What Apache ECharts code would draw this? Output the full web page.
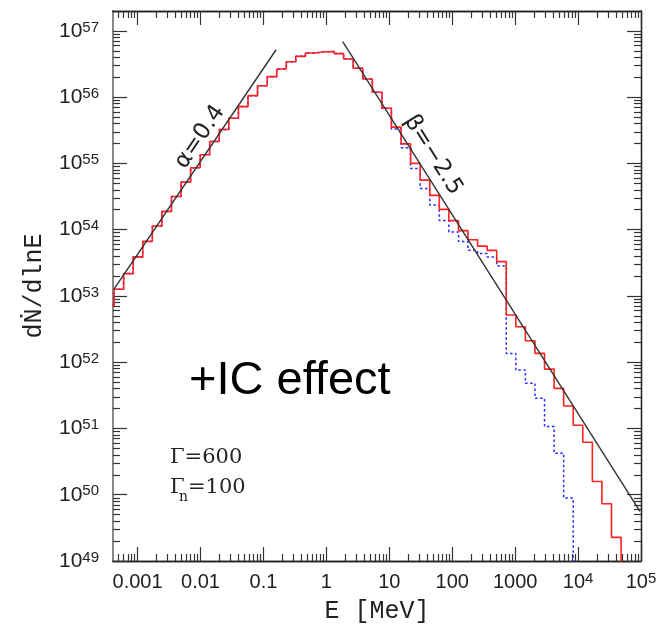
<!DOCTYPE html>
<html><head><meta charset="utf-8">
<script src="https://cdn.jsdelivr.net/npm/echarts@6/dist/echarts.min.js"></script>
<style>html,body{margin:0;padding:0;background:#fff}#c{width:664px;height:629px}</style>
</head><body><div id="c"></div>
<script>
// Bin edges (MeV), evenly spaced in log E
const binEdgesMeV = [0.000299, 0.000424, 0.000601, 0.000853, 0.00121, 0.00172, 0.00244, 0.00346, 0.00491, 0.00697,
  0.00989, 0.0140, 0.0199, 0.0282, 0.0401, 0.0569, 0.0807, 0.115, 0.163, 0.231,
  0.327, 0.465, 0.659, 0.935, 1.33, 1.88, 2.67, 3.79, 5.38, 7.64,
  10.8, 15.4, 21.8, 31.0, 44.0, 62.4, 88.5, 126, 178, 253,
  359, 509, 723, 1026, 1455, 2065, 2931, 4159, 5902, 8375,
  11885, 16866, 23933, 33963, 48195, 68391];
// dN/dlnE per bin, red solid (+IC effect)
const redCounts = [7.16e52, 1.262e53, 2.173e53, 3.882e53, 6.668e53, 1.138e54, 1.888e54, 3.170e54, 5.224e54, 8.590e54,
  1.349e55, 2.138e55, 3.243e55, 4.808e55, 7.194e55, 1.054e56, 1.489e56, 2.037e56, 2.661e56, 3.428e56,
  4.130e56, 4.634e56, 4.842e56, 4.875e56, 4.539e56, 3.758e56, 2.723e56, 1.879e56, 1.186e56, 6.808e55,
  3.524e55, 1.972e55, 1.000e55, 5.598e54, 3.289e54, 2.023e54, 1.368e54, 9.661e53, 7.063e53, 5.649e53,
  4.875e53, 3.296e53, 5.152e52, 3.428e52, 2.109e52, 1.358e52, 7.870e51, 4.027e51, 2.183e51, 1.117e51,
  6.194e50, 1.585e50, 7.295e49, 2.275e49, 3e48];
// dN/dlnE per bin, blue dotted
const blueCounts = [7.16e52, 1.262e53, 2.173e53, 3.882e53, 6.668e53, 1.138e54, 1.888e54, 3.170e54, 5.224e54, 8.590e54,
  1.349e55, 2.138e55, 3.243e55, 4.808e55, 7.194e55, 1.054e56, 1.489e56, 2.037e56, 2.661e56, 3.428e56,
  4.130e56, 4.634e56, 4.842e56, 4.875e56, 4.539e56, 3.758e56, 2.723e56, 1.879e56, 1.186e56, 6.808e55,
  3.319e55, 1.722e55, 8.414e54, 4.188e54, 2.355e54, 1.380e54, 9.226e53, 6.607e53, 4.875e53, 4.355e53,
  3.882e53, 2.818e53, 1.358e52, 7.603e51, 4.797e51, 2.851e51, 1.067e51, 4.236e50, 8.89e49, 3e48];
// power-law guide lines [E, dN/dlnE]
const alphaLine = [[4.2e-4, 1.26e53], [0.159, 5.19e56]];
const betaLine = [[1.82, 6.86e56], [9.64e4, 5.61e49]];
// ticks
const xTickValues = [0.001, 0.01, 0.1, 1, 10, 100, 1000, 1e4, 1e5];
const xTickLabels = ['0.001', '0.01', '0.1', '1', '10', '100', '1000', '10^4', '10^5'];
const yTickValues = [1e49, 1e50, 1e51, 1e52, 1e53, 1e54, 1e55, 1e56, 1e57];
const yTickLabels = ['10^49', '10^50', '10^51', '10^52', '10^53', '10^54', '10^55', '10^56', '10^57'];

const lg = v => Math.log10(v);
const xMin = -3.39, xMax = 5, yMin = 49, yMax = 57.3;
const xMajor = xTickValues.map(v => Math.round(lg(v)));
const yMajor = yTickValues.map(v => Math.round(lg(v)));
function minorTicks(lo, hi) {
  const out = [];
  for (let k = Math.floor(lo) - 1; k <= Math.ceil(hi); k++) {
    for (let m = 2; m <= 9; m++) { const v = k + Math.log10(m); if (v > lo && v < hi) out.push(v); }
  }
  return out;
}
function stepData(counts) {
  const d = counts.map((c, i) => [lg(binEdgesMeV[i]), lg(c)]);
  d.push([lg(binEdgesMeV[counts.length]), lg(counts[counts.length - 1])]);
  return d;
}
function fmt(labels, majors, tag) {
  return v => {
    const i = majors.findIndex(m => Math.abs(m - v) < 1e-6);
    if (i < 0) return '';
    const s = labels[i];
    if (s.indexOf('^') >= 0) { const p = s.split('^'); return '{' + tag + '|' + p[0] + '}{s|' + p[1] + '}'; }
    return '{' + tag + '|' + s + '}';
  };
}
const rich = {
  b: { fontSize: 20, fontFamily: 'Liberation Sans', color: '#222', lineHeight: 22 },
  y: { fontSize: 21, fontFamily: 'Liberation Sans', color: '#222', lineHeight: 22 },
  s: { fontSize: 15, fontFamily: 'Liberation Sans', color: '#222', lineHeight: 14, verticalAlign: 'top' }
};
const TICK = '#333';
function axis(dim, pos, values, len, opts) {
  const lineColor = (pos === 'left') ? '#888' : '#222';
  const lineW = (pos === 'left') ? 2 : 1.3;
  const base = {
    type: 'value', position: pos,
    min: dim === 'x' ? xMin : yMin, max: dim === 'x' ? xMax : yMax,
    axisLine: { show: true, onZero: false, lineStyle: { color: lineColor, width: lineW } },
    axisTick: { show: true, inside: true, length: len, customValues: values, lineStyle: { color: TICK, width: 1.2 } },
    axisLabel: { show: false },
    splitLine: { show: false }
  };
  return Object.assign(base, opts || {});
}
const xMinor = minorTicks(xMin, xMax), yMinor = minorTicks(yMin, yMax);

const chart = echarts.init(document.getElementById('c'), null, { renderer: 'canvas' });
chart.setOption({
  animation: false,
  backgroundColor: '#fff',
  grid: { left: 113, right: 23, top: 11, bottom: 66 },
  xAxis: [
    axis('x', 'bottom', xMajor, 14, {
      axisLabel: { show: true, customValues: xMajor, margin: 10, formatter: fmt(xTickLabels, xMajor, 'b'), rich: rich },
      name: 'E [MeV]', nameLocation: 'middle', nameGap: 38,
      nameTextStyle: { fontFamily: 'Liberation Mono', fontSize: 25, color: '#222' }
    }),
    axis('x', 'bottom', xMinor, 7),
    axis('x', 'top', xMajor, 14),
    axis('x', 'top', xMinor, 7)
  ],
  yAxis: [
    axis('y', 'left', yMajor, 14, {
      axisLabel: { show: true, customValues: yMajor, margin: 14, formatter: fmt(yTickLabels, yMajor, 'y'), rich: rich },
      name: 'dṄ/dlnE', nameLocation: 'middle', nameGap: 66, nameRotate: 90,
      nameTextStyle: { fontFamily: 'Liberation Mono', fontSize: 25, color: '#222' }
    }),
    axis('y', 'left', yMinor, 7),
    axis('y', 'right', yMajor, 14),
    axis('y', 'right', yMinor, 7)
  ],
  series: [
    { type: 'line', step: 'end', data: stepData(blueCounts), symbol: 'none', z: 2, silent: true,
      lineStyle: { color: '#2a2aff', width: 1.5, type: [2.5, 2.5] } },
    { type: 'line', step: 'end', data: stepData(redCounts), symbol: 'none', z: 3, silent: true,
      lineStyle: { color: '#ff2020', width: 1.6 } },
    { type: 'line', data: alphaLine.map(p => [lg(p[0]), lg(p[1])]), symbol: 'none', z: 4, silent: true,
      lineStyle: { color: '#333', width: 1.4 } },
    { type: 'line', data: betaLine.map(p => [lg(p[0]), lg(p[1])]), symbol: 'none', z: 4, silent: true,
      lineStyle: { color: '#333', width: 1.4 } }
  ],
  graphic: [
    { type: 'text', x: 189, y: 381, style: { text: '+IC effect', fontSize: 47, fontFamily: 'Liberation Sans', fill: '#000', align: 'left', verticalAlign: 'middle' } },
    { type: 'text', x: 170, y: 458, style: { text: 'Γ=600', fontSize: 21, fontFamily: 'DejaVu Serif', fill: '#222', align: 'left', verticalAlign: 'middle' } },
    { type: 'text', x: 170, y: 488, style: { text: 'Γ', fontSize: 21, fontFamily: 'DejaVu Serif', fill: '#222', align: 'left', verticalAlign: 'middle' } },
    { type: 'text', x: 179, y: 497.5, style: { text: 'n', fontSize: 14, fontFamily: 'DejaVu Serif', fill: '#222', align: 'left', verticalAlign: 'middle' } },
    { type: 'text', x: 188, y: 488, style: { text: '=100', fontSize: 21, fontFamily: 'DejaVu Serif', fill: '#222', align: 'left', verticalAlign: 'middle' } },
    { type: 'text', x: 200, y: 137, rotation: 0.976, style: { text: 'α=0.4', fontSize: 23, fontFamily: 'DejaVu Sans', fill: '#222', align: 'center', verticalAlign: 'middle' } },
    { type: 'text', x: 433, y: 155, rotation: -1.008, style: { text: 'β=−2.5', fontSize: 23, fontFamily: 'DejaVu Sans', fill: '#222', align: 'center', verticalAlign: 'middle' } }
  ]
});
</script></body></html>
